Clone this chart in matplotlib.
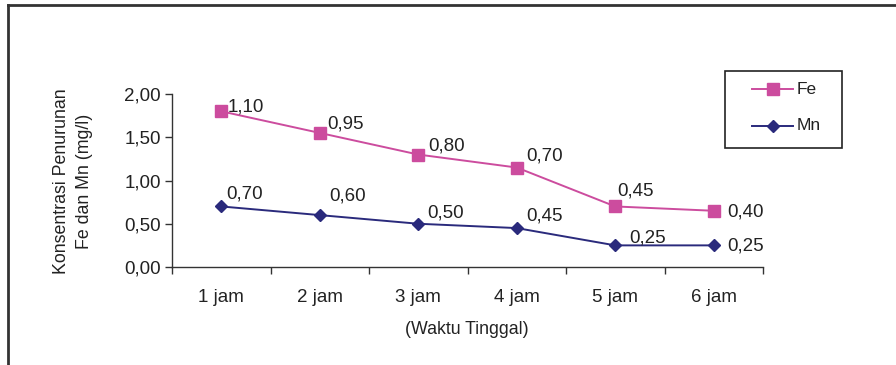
import numpy as np
import matplotlib
matplotlib.use("Agg")
import matplotlib.pyplot as plt
from matplotlib.lines import Line2D
from matplotlib.patches import Rectangle
from matplotlib.ticker import FuncFormatter, FixedLocator

plt.rcParams["font.family"] = ["Liberation Sans", "DejaVu Sans"]

# penurunan konsentrasi per waktu tinggal (mg/l)
waktu = ["1 jam", "2 jam", "3 jam", "4 jam", "5 jam", "6 jam"]
fe = [1.10, 0.95, 0.80, 0.70, 0.45, 0.40]
mn = [0.70, 0.60, 0.50, 0.45, 0.25, 0.25]

# posisi label data relatif terhadap titik (piksel)
fe_offset = [(6, 4), (7, 9), (10, 9), (9, 12), (2, 15), (13, -1)]
mn_offset = [(5, 12), (9, 19), (9, 11), (9, 12), (14, 7), (13, -1)]

FE_COLOR = "#CC4C9E"
MN_COLOR = "#2A2A7C"
TXT = "#222222"
FS = 13.5
W, H = 896, 365


def koma(v, pos=None):
    return f"{v:.2f}".replace(".", ",")


def fx(px):
    return px / W


def fy(py):
    return 1 - py / H


fig = plt.figure(figsize=(W / 100, H / 100), dpi=100)
ax = fig.add_axes([fx(172), fy(267), (763 - 172) / W, (267 - 94) / H])

x = np.arange(len(waktu))
mn_arr = np.array(mn)
fe_stack = mn_arr + np.array(fe)  # garis bertumpuk: Fe di atas Mn

fe_style = dict(color=FE_COLOR, lw=1.4, marker="s", ms=8.5, mec=FE_COLOR)
mn_style = dict(color=MN_COLOR, lw=1.4, marker="D", ms=6.5, mec=MN_COLOR)

ax.plot(x, fe_stack, zorder=3, **fe_style)
ax.plot(x, mn_arr, zorder=3, **mn_style)

for xi, yi, v, (dx, dy) in zip(x, fe_stack, fe, fe_offset):
    ax.annotate(koma(v), (xi, yi), xytext=(dx, dy), textcoords="offset pixels",
                ha="left", va="center", fontsize=FS, color=TXT)
for xi, yi, v, (dx, dy) in zip(x, mn_arr, mn, mn_offset):
    ax.annotate(koma(v), (xi, yi), xytext=(dx, dy), textcoords="offset pixels",
                ha="left", va="center", fontsize=FS, color=TXT)

ax.set_xlim(-0.5, len(waktu) - 0.5)
ax.set_ylim(0, 2.0)
ax.set_yticks(np.arange(0, 2.01, 0.5))
ax.yaxis.set_major_formatter(FuncFormatter(koma))

ax.set_xticks(x)
ax.set_xticklabels(waktu)
ax.xaxis.set_minor_locator(FixedLocator(np.arange(-0.5, len(waktu), 1.0)))
ax.tick_params(axis="x", which="major", length=0, pad=16, labelsize=FS, colors=TXT)
ax.tick_params(axis="x", which="minor", length=5, width=1, color="#333333", direction="out")
ax.tick_params(axis="y", length=5, width=1, color="#333333", pad=3, labelsize=FS,
               labelcolor=TXT)

for side in ["top", "right"]:
    ax.spines[side].set_visible(False)
for side in ["left", "bottom"]:
    ax.spines[side].set_color("#333333")
    ax.spines[side].set_linewidth(1)

fig.text(fx(467), fy(329), "(Waktu Tinggal)", ha="center", va="center",
         fontsize=12.8, color=TXT)
fig.text(fx(73), fy(181), "Konsentrasi Penurunan\nFe dan Mn (mg/l)",
         rotation=90, ha="center", va="center", multialignment="center",
         fontsize=12.8, color=TXT, linespacing=1.45)

# legenda
fig.add_artist(Rectangle((fx(725), fy(148)), (842 - 725) / W, (148 - 71) / H,
                         transform=fig.transFigure, facecolor="white",
                         edgecolor=TXT, lw=1.2, zorder=5))
for py, name, style in [(89, "Fe", fe_style), (126, "Mn", mn_style)]:
    fig.add_artist(Line2D([fx(752), fx(793)], [fy(py)] * 2, markevery=[],
                          transform=fig.transFigure, zorder=6,
                          **{k: v for k, v in style.items() if k not in ("marker", "ms", "mec")}))
    fig.add_artist(Line2D([fx(772.5)], [fy(py)], transform=fig.transFigure, zorder=7,
                          ls="none", marker=style["marker"], ms=style["ms"],
                          color=style["color"], mec=style["mec"]))
    fig.text(fx(797), fy(py), name, ha="left", va="center", fontsize=12.5,
             color=TXT, zorder=8)

# bingkai luar
fig.add_artist(Line2D([fx(8), 1.0], [fy(5)] * 2, color="#333333", lw=2,
                      transform=fig.transFigure))
fig.add_artist(Line2D([fx(8)] * 2, [0, fy(5)], color="#333333", lw=2,
                      transform=fig.transFigure))

fig.savefig("out.png", dpi=100)
